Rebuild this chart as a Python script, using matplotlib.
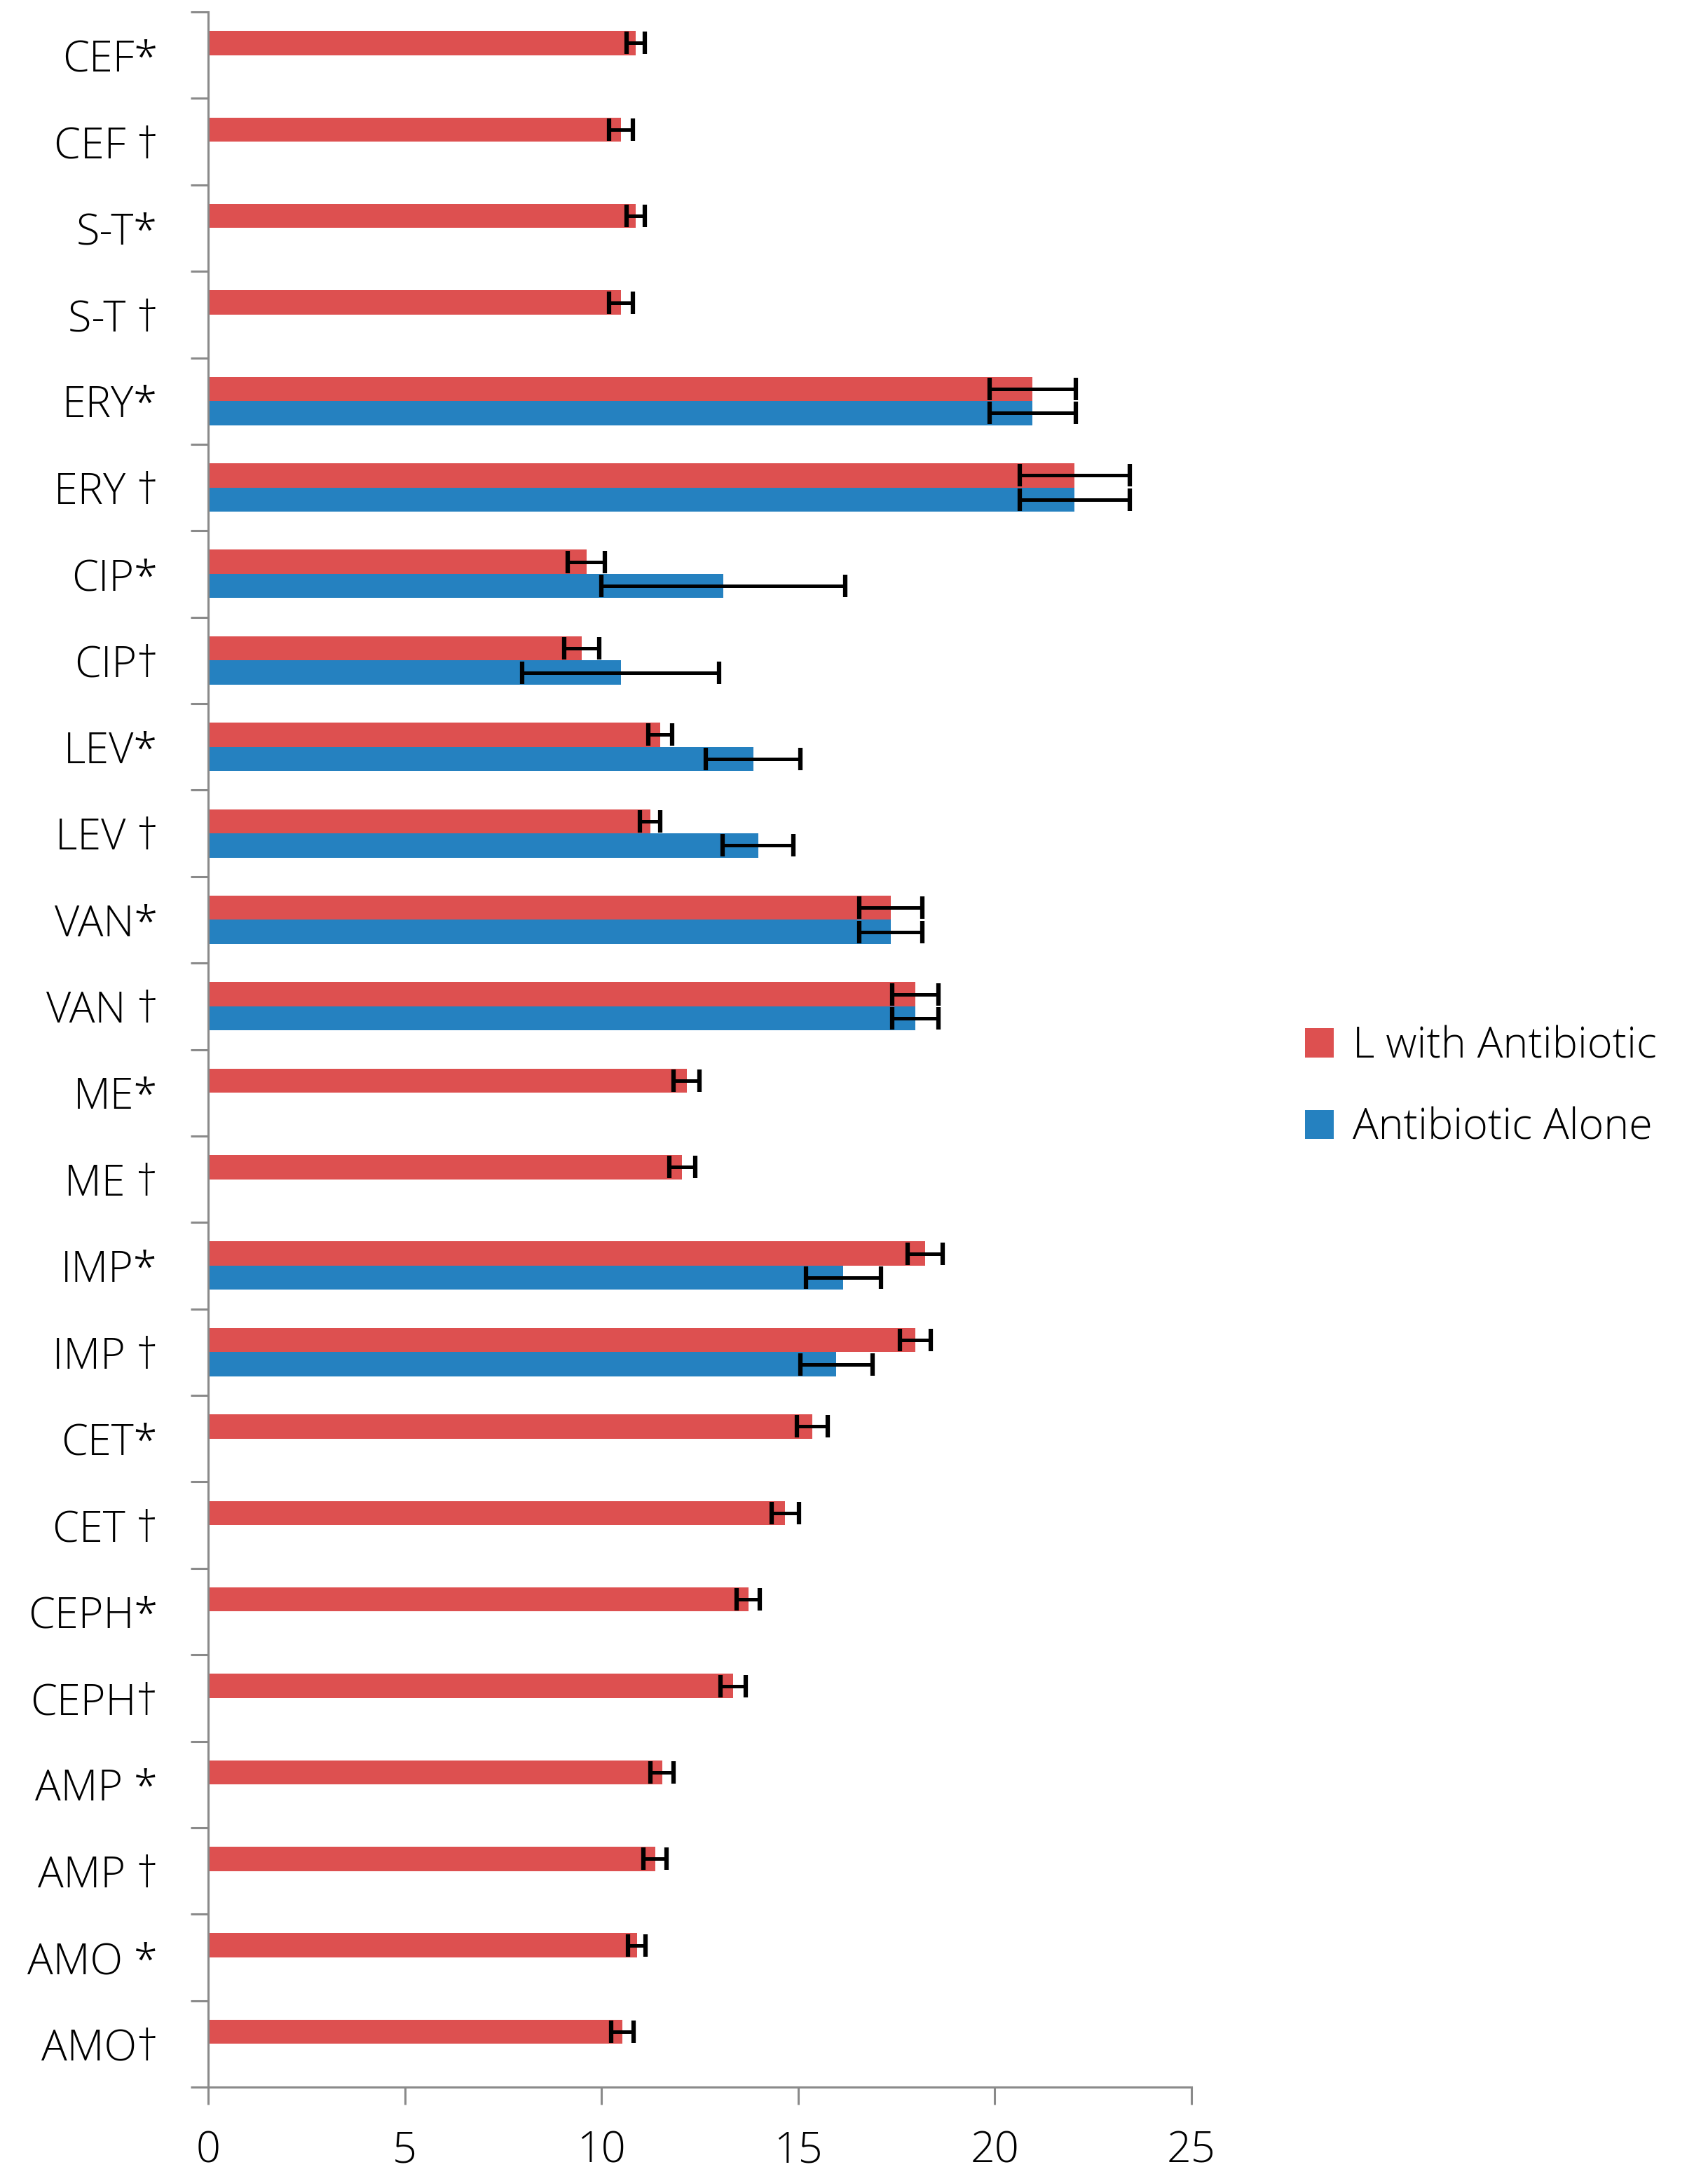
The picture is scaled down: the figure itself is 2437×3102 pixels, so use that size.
import matplotlib.pyplot as plt
import numpy as np
from matplotlib.patches import Patch

nan = np.nan

# categories, top to bottom
labels = ['CEF*', 'CEF \u2020', 'S-T*', 'S-T \u2020', 'ERY*', 'ERY \u2020',
          'CIP*', 'CIP\u2020', 'LEV*', 'LEV \u2020', 'VAN*', 'VAN \u2020',
          'ME*', 'ME \u2020', 'IMP*', 'IMP \u2020', 'CET*', 'CET \u2020',
          'CEPH*', 'CEPH\u2020', 'AMP *', 'AMP \u2020', 'AMO *', 'AMO\u2020']

# L with antibiotic
l_with = [10.87, 10.49, 10.87, 10.49, 20.96, 22.03, 9.62, 9.50, 11.49, 11.24,
          17.35, 17.98, 12.17, 12.05, 18.23, 17.98, 15.36, 14.67, 13.73, 13.35,
          11.54, 11.36, 10.90, 10.53]
l_with_err = [0.24, 0.30, 0.24, 0.30, 1.10, 1.40, 0.47, 0.44, 0.30, 0.26,
              0.80, 0.58, 0.33, 0.33, 0.45, 0.40, 0.40, 0.35, 0.30, 0.32,
              0.30, 0.30, 0.22, 0.28]

# antibiotic alone (nan = not shown)
alone = [nan, nan, nan, nan, 20.96, 22.03, 13.10, 10.49, 13.86, 13.98,
         17.35, 17.98, nan, nan, 16.15, 15.97, nan, nan, nan, nan,
         nan, nan, nan, nan]
alone_err = [nan, nan, nan, nan, 1.10, 1.40, 3.10, 2.50, 1.20, 0.90,
             0.80, 0.58, nan, nan, 0.95, 0.92, nan, nan, nan, nan,
             nan, nan, nan, nan]

xticks = [0, 5, 10, 15, 20, 25]

red = '#DD5050'
blue = '#2581C0'
gray = '#8A8A8A'
fs = 44
fam = ['Open Sans', 'DejaVu Sans']
plt.rcParams['font.family'] = fam
plt.rcParams['font.weight'] = 'light'

W, H = 2437, 3102
fig = plt.figure(figsize=(W / 100, H / 100), dpi=100)
ax = fig.add_axes([297 / W, 1 - 2978 / H, (1700 - 297) / W, (2978 - 17) / H])

y = np.arange(len(labels))
h = 0.28
l_with = np.array(l_with)
l_with_err = np.array(l_with_err)
alone = np.array(alone)
alone_err = np.array(alone_err)
m = ~np.isnan(alone)

ekw = dict(fmt='none', ecolor='black', elinewidth=3.6, capsize=11.5, capthick=4.5, zorder=3)

ax.barh(y - h / 2, l_with, height=h, color=red, zorder=2)
ax.errorbar(l_with, y - h / 2, xerr=l_with_err, **ekw)
ax.barh(y[m] + h / 2, alone[m], height=h, color=blue, zorder=2)
ax.errorbar(alone[m], y[m] + h / 2, xerr=alone_err[m], **ekw)

ax.set_xlim(0, 25)
ax.set_ylim(len(labels) - 0.5, -0.5)

ax.set_xticks(xticks)
ax.set_xticklabels([str(t) for t in xticks], fontsize=fs)
ax.tick_params(axis='x', direction='out', length=18, width=2.2, color=gray, pad=26)

ax.set_yticks(np.arange(len(labels) + 1) - 0.5)
ax.set_yticklabels([])
ax.set_yticks(y, minor=True)
ax.set_yticklabels(labels, minor=True, fontsize=fs)
ax.tick_params(axis='y', which='major', direction='out', length=18, width=2.2, color=gray)
ax.tick_params(axis='y', which='minor', length=0, pad=52)

for s in ['top', 'right']:
    ax.spines[s].set_visible(False)
for s in ['left', 'bottom']:
    ax.spines[s].set_color(gray)
    ax.spines[s].set_linewidth(2.2)

handles = [Patch(facecolor=red, label='L with Antibiotic'),
           Patch(facecolor=blue, label='Antibiotic Alone')]
fig.legend(handles=handles, loc='center left', bbox_to_anchor=(1838 / W, 1 - 1552 / H),
           frameon=False, fontsize=fs, handlelength=0.66, handleheight=0.66,
           handletextpad=0.45, labelspacing=0.9, borderaxespad=0)

fig.savefig('out.png', dpi=100)
